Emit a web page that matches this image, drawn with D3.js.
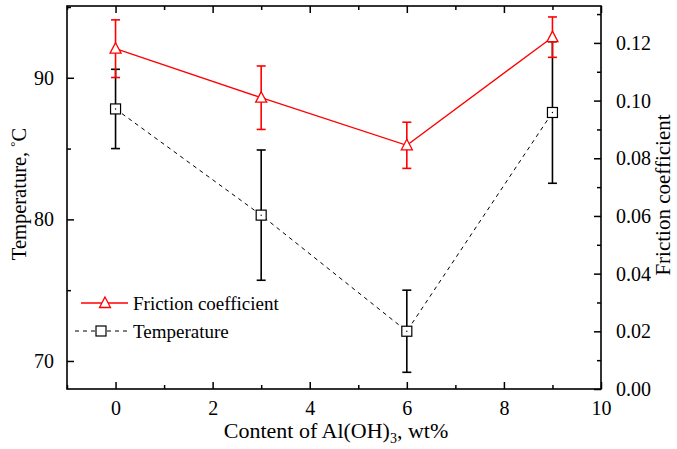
<!DOCTYPE html>
<html>
<head>
<meta charset="utf-8">
<script src="https://cdn.jsdelivr.net/npm/d3@7"></script>
<style>
  body { margin: 0; background: #fff; }
  svg text { font-family: "Liberation Serif", "Times New Roman", serif; }
</style>
</head>
<body>
<svg id="chart"></svg>
<script>
// data
let content = [0, 3, 6, 9]
let friction = [0.118, 0.101, 0.0845, 0.122]
let frictionErr = [0.010, 0.011, 0.008, 0.007]
let temperature = [87.8, 80.3, 72.1, 87.55]
let temperatureErr = [2.8, 4.6, 2.9, 5.0]

let xTicks = [0, 2, 4, 6, 8, 10]
let xMinor = [-1, 1, 3, 5, 7, 9]
let tTicks = [70, 80, 90]
let tMinor = [75, 85, 95]
let fTicks = [0, 0.02, 0.04, 0.06, 0.08, 0.10, 0.12]
let fMinor = [0.01, 0.03, 0.05, 0.07, 0.09, 0.11, 0.13]

let w = 677
let h = 449
let pl = 67, pr = 601, pt = 6, pb = 389

let svg = d3.select('#chart').attr('width', w).attr('height', h)

let xScale = d3.scaleLinear().domain([-1, 10]).range([pl, pr])
let tScale = d3.scaleLinear().domain([68.02, 95.07]).range([pb, pt])
let fScale = d3.scaleLinear().domain([0, 0.1328]).range([pb, pt])

// axes, ticks pointing inward
let drawAxes = () => {
  let g = svg.append('g')
  let styleAxis = (sel) => {
    sel.select('.domain').remove()
    sel.selectAll('line').attr('stroke', '#000').attr('stroke-width', 1.5)
    sel.selectAll('text').attr('fill', '#000').style('font-size', '20px')
  }
  g.append('g').attr('transform', `translate(0,${pb})`)
    .call(d3.axisBottom(xScale).tickValues(xTicks).tickSize(-7).tickPadding(12).tickFormat(d3.format('d')))
    .call(styleAxis)
  g.append('g').attr('transform', `translate(0,${pb})`)
    .call(d3.axisBottom(xScale).tickValues(xMinor).tickSize(-4).tickFormat(''))
    .call(styleAxis)
  g.append('g').attr('transform', `translate(0,${pt})`)
    .call(d3.axisTop(xScale).tickValues(xTicks).tickSize(-7).tickFormat(''))
    .call(styleAxis)
  g.append('g').attr('transform', `translate(0,${pt})`)
    .call(d3.axisTop(xScale).tickValues(xMinor).tickSize(-4).tickFormat(''))
    .call(styleAxis)
  g.append('g').attr('transform', `translate(${pl},0)`)
    .call(d3.axisLeft(tScale).tickValues(tTicks).tickSize(-7).tickPadding(13).tickFormat(d3.format('d')))
    .call(styleAxis)
  g.append('g').attr('transform', `translate(${pl},0)`)
    .call(d3.axisLeft(tScale).tickValues(tMinor).tickSize(-4).tickFormat(''))
    .call(styleAxis)
  g.append('g').attr('transform', `translate(${pr},0)`)
    .call(d3.axisRight(fScale).tickValues(fTicks).tickSize(-7).tickPadding(15).tickFormat(d3.format('.2f')))
    .call(styleAxis)
  g.append('g').attr('transform', `translate(${pr},0)`)
    .call(d3.axisRight(fScale).tickValues(fMinor).tickSize(-4).tickFormat(''))
    .call(styleAxis)

  svg.append('rect')
    .attr('x', pl).attr('y', pt)
    .attr('width', pr - pl).attr('height', pb - pt)
    .attr('fill', 'none').attr('stroke', '#000').attr('stroke-width', 1.6)
}

let triPath = (cx, cy, s) => `M${cx},${cy - s * 0.6}L${cx + s * 0.55},${cy + s * 0.45}L${cx - s * 0.55},${cy + s * 0.45}Z`

let drawErr = (g, ys, es, scale, color) => {
  content.forEach((c, i) => {
    let x = xScale(c)
    let y1 = scale(ys[i] + es[i])
    let y2 = scale(ys[i] - es[i])
    g.append('line').attr('x1', x).attr('x2', x).attr('y1', y1).attr('y2', y2)
      .attr('stroke', color).attr('stroke-width', 1.6)
    ;[y1, y2].forEach(y => {
      g.append('line').attr('x1', x - 4.5).attr('x2', x + 4.5).attr('y1', y).attr('y2', y)
        .attr('stroke', color).attr('stroke-width', 1.6)
    })
  })
}

let drawSeries = () => {
  // temperature (dashed, squares)
  let gt = svg.append('g')
  drawErr(gt, temperature, temperatureErr, tScale, '#000')
  let tLine = d3.line().x((d, i) => xScale(content[i])).y(d => tScale(d))
  gt.append('path').attr('d', tLine(temperature))
    .attr('fill', 'none').attr('stroke', '#000').attr('stroke-width', 1).attr('stroke-dasharray', '4,4')
  gt.selectAll('rect.sq').data(temperature).enter().append('rect')
    .attr('x', (d, i) => xScale(content[i]) - 5).attr('y', d => tScale(d) - 5)
    .attr('width', 10).attr('height', 10)
    .attr('fill', '#fff').attr('stroke', '#000').attr('stroke-width', 1.2)
  gt.selectAll('circle').data(temperature).enter().append('circle')
    .attr('cx', (d, i) => xScale(content[i])).attr('cy', d => tScale(d)).attr('r', 0.7).attr('fill', '#000')

  // friction (solid red, triangles)
  let gf = svg.append('g')
  drawErr(gf, friction, frictionErr, fScale, '#ff0000')
  let fLine = d3.line().x((d, i) => xScale(content[i])).y(d => fScale(d))
  gf.append('path').attr('d', fLine(friction))
    .attr('fill', 'none').attr('stroke', '#ff0000').attr('stroke-width', 1.3)
  gf.selectAll('path.tri').data(friction).enter().append('path')
    .attr('d', (d, i) => triPath(xScale(content[i]), fScale(d), 10))
    .attr('fill', '#fff').attr('stroke', '#ff0000').attr('stroke-width', 1.3)
}

let drawLegend = () => {
  let lg = svg.append('g')
  lg.append('line').attr('x1', 81).attr('x2', 128).attr('y1', 303).attr('y2', 303)
    .attr('stroke', '#ff0000').attr('stroke-width', 1.3)
  lg.append('path').attr('d', triPath(105, 303, 10))
    .attr('fill', '#fff').attr('stroke', '#ff0000').attr('stroke-width', 1.3)
  lg.append('text').attr('x', 133).attr('y', 310).style('font-size', '19px').text('Friction coefficient')

  lg.append('line').attr('x1', 75).attr('x2', 127).attr('y1', 331).attr('y2', 331)
    .attr('stroke', '#000').attr('stroke-width', 1).attr('stroke-dasharray', '4,4')
  lg.append('rect').attr('x', 96).attr('y', 326).attr('width', 10).attr('height', 10)
    .attr('fill', '#fff').attr('stroke', '#000').attr('stroke-width', 1.2)
  lg.append('text').attr('x', 133).attr('y', 338).style('font-size', '19px').text('Temperature')
}

let drawTitles = () => {
  let xt = svg.append('text').attr('x', 336).attr('y', 438)
    .attr('text-anchor', 'middle').style('font-size', '22px')
  xt.append('tspan').text('Content of Al(OH)')
  xt.append('tspan').attr('dy', 5).style('font-size', '14px').text('3')
  xt.append('tspan').attr('dy', -5).text(', wt%')

  let yt = svg.append('text').attr('transform', 'translate(26,194) rotate(-90)')
    .attr('text-anchor', 'middle').style('font-size', '20.5px')
  yt.append('tspan').text('Temperature, ')
  yt.append('tspan').attr('dy', -7).style('font-size', '13px').text('°')
  yt.append('tspan').attr('dy', 7).text('C')

  svg.append('text').attr('transform', 'translate(670,195) rotate(-90)')
    .attr('text-anchor', 'middle').style('font-size', '21px').text('Friction coefficient')
}

drawAxes()
drawSeries()
drawLegend()
drawTitles()
</script>
</body>
</html>
